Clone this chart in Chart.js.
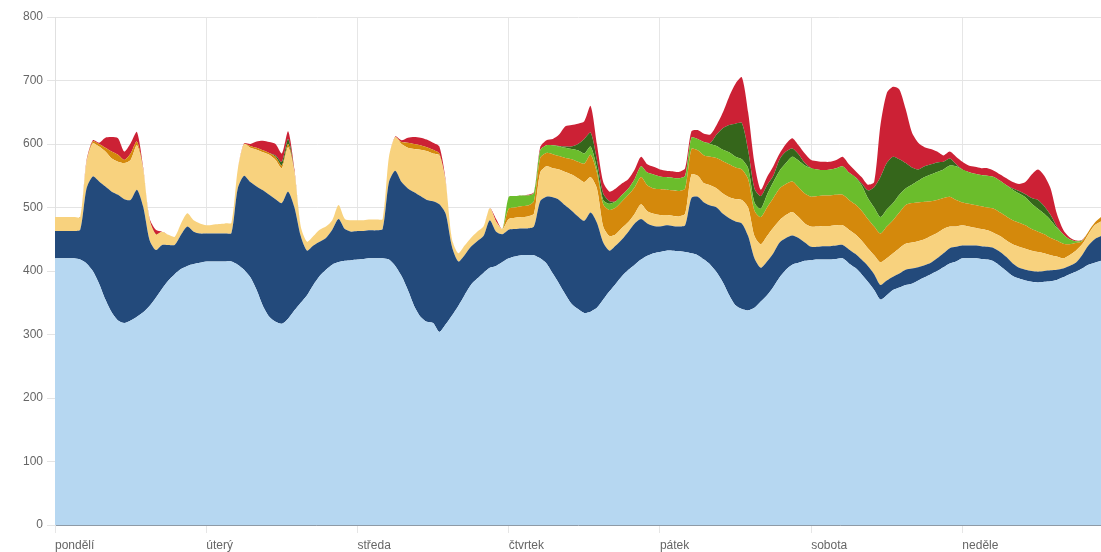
<!DOCTYPE html>
<html lang="cs">
<head>
  <meta charset="UTF-8">
  <title>Výroba elektřiny během týdne</title>
  <script src="https://cdn.jsdelivr.net/npm/chart.js"></script>
  <style>
    html, body { margin: 0; padding: 0; background: #fff; }
    #wrap { width: 1101px; height: 552px; }
  </style>
</head>
<body>
  <div id="wrap"><canvas id="weekChart"></canvas></div>

  <script>
    // Tick labels for the x axis, one per day (24 hourly samples each)
    const dayNames = ['pondělí', 'úterý', 'středa', 'čtvrtek', 'pátek', 'sobota', 'neděle'];

    // Hourly values, Monday 00:00 onwards, stacked bottom to top
    const lightBlue = [
      420,420,420,420,418,412,400,380,355,335,322,318,322,328,335,345,358,372,385,395,403,408,411,413,
      415,415,415,415,415,410,402,390,370,345,328,320,317,325,338,350,362,378,392,402,410,414,416,417,
      418,419,420,420,420,418,408,392,370,345,328,320,318,304,316,330,345,362,378,388,397,405,408,414,
      420,423,425,425,425,420,412,396,380,363,348,340,334,336,342,355,368,380,392,402,410,418,424,428,
      430,432,432,431,430,428,425,418,410,398,382,362,346,340,338,342,352,362,375,390,402,410,413,416,
      417,418,418,418,419,420,412,405,395,383,370,355,362,370,374,378,380,385,390,395,400,406,412,415,
      420,420,420,419,418,415,408,400,392,388,385,383,382,383,384,386,390,395,399,404,410,413,416
    ];
    const darkBlue = [
      43,43,43,43,47,118,149,161,178,190,198,195,190,200,166,104,75,69,56,46,54,62,51,46,
      44,44,44,44,45,120,148,150,163,182,192,193,190,200,162,105,70,62,54,50,55,68,50,45,
      45,44,44,44,46,122,150,148,160,179,190,192,192,201,174,108,70,63,60,59,58,75,54,44,
      45,43,42,42,45,90,105,120,132,140,147,146,145,156,134,90,64,60,58,60,65,64,51,43,
      40,40,39,39,42,87,92,90,93,102,108,121,132,135,117,78,53,53,53,55,50,46,39,29,
      21,20,21,21,21,21,22,22,23,25,25,23,23,21,22,24,24,21,19,18,20,22,24,23,
      20,20,20,20,20,21,22,22,20,17,17,17,17,17,17,16,14,13,14,21,30,37,39
    ];
    const yellow = [
      22,22,22,22,20,40,52,55,55,52,52,57,63,70,58,31,24,21,16,13,18,21,18,16,
      13,14,15,16,16,30,50,54,58,60,63,62,55,70,55,15,14,15,19,18,15,22,16,18,
      17,17,17,17,16,40,53,60,64,68,73,77,75,77,50,12,13,15,14,15,15,19,16,8,
      17,18,18,19,20,45,48,46,48,53,57,60,61,56,54,25,23,18,18,15,15,23,19,19,
      18,16,16,16,18,37,33,30,32,30,32,33,35,37,45,35,37,40,40,35,36,37,33,30,
      32,32,32,32,32,31,31,31,30,28,30,36,35,37,40,41,41,41,41,42,40,38,34,32,
      32,30,28,27,26,24,25,26,30,33,33,32,31,28,24,21,16,17,19,17,18,22,23
    ];
    const orange = [
      0,0,0,0,0,2,3,4,6,11,11,5,10,6,2,1,1,0,0,0,0,0,0,0,
      0,0,0,0,0,0,0,3,3,3,3,5,4,5,2,0,0,0,0,0,0,0,0,0,
      0,0,0,0,0,0,0,3,8,8,7,6,6,3,1,0,0,0,0,0,0,0,0,0,
      16,16,17,17,20,23,21,22,21,22,24,26,29,35,25,35,41,42,42,43,42,43,41,40,
      41,40,40,40,40,40,40,44,45,48,51,52,50,48,45,40,43,45,47,50,49,48,47,47,
      47,48,48,48,48,48,47,47,47,46,45,45,50,52,56,61,62,61,59,55,52,49,47,42,
      36,36,36,36,36,38,37,38,38,38,37,34,32,30,27,25,23,17,12,5,4,4,7
    ];
    const lightGreen = [
      0,0,0,0,0,0,0,0,0,0,0,0,0,0,0,0,0,0,0,0,0,0,0,0,
      0,0,0,0,0,0,0,0,0,0,0,0,0,0,0,0,0,0,0,0,0,0,0,0,
      0,0,0,0,0,0,0,0,0,0,0,0,0,0,0,0,0,0,0,0,0,0,0,0,
      19,18,17,16,13,12,12,14,15,16,16,18,16,13,7,7,10,10,10,10,13,17,20,22,
      20,20,20,20,20,18,18,21,20,19,18,19,17,16,17,13,13,20,25,28,33,39,42,44,
      45,42,40,41,42,45,43,43,40,33,30,26,27,27,28,26,29,34,39,42,44,45,49,53,
      52,50,49,49,50,50,50,49,48,46,44,40,36,32,28,20,15,8,3,1,0,0,0
    ];
    const darkGreen = [
      0,0,0,0,0,0,0,0,0,0,0,0,0,0,0,0,0,0,0,0,0,0,0,0,
      0,0,0,0,0,0,0,0,0,0,0,2,6,8,0,0,0,0,0,0,0,0,0,0,
      0,0,0,0,0,0,0,0,0,0,0,0,0,0,0,0,0,0,0,0,0,0,0,0,
      0,0,0,0,0,0,0,0,1,2,4,10,23,22,13,10,4,0,0,0,0,0,0,0,
      0,0,0,0,0,0,0,0,2,18,34,43,52,57,28,22,20,15,10,18,18,13,10,4,
      0,0,0,0,0,0,0,0,3,12,32,63,73,73,56,40,27,18,17,16,15,12,11,3,
      0,0,0,0,0,0,0,0,2,4,5,9,14,12,8,2,0,0,0,0,0,0,0
    ];
    const red = [
      0,0,0,0,0,2,2,2,16,23,26,13,16,15,2,2,7,0,0,0,0,0,0,0,
      0,0,0,0,0,0,1,3,10,15,17,18,13,12,3,0,0,0,0,0,0,0,0,0,
      0,0,0,0,0,0,1,3,8,11,12,12,11,11,2,0,0,0,0,0,0,0,4,0,
      0,0,0,1,1,5,8,10,18,32,34,32,28,42,25,18,15,20,18,15,15,15,13,12,
      11,10,10,10,12,10,14,13,13,15,25,45,63,72,60,40,10,13,15,9,12,16,14,15,
      13,13,13,12,13,15,13,10,10,9,8,82,110,110,110,85,55,42,30,24,17,10,11,12,
      12,10,11,11,12,10,10,11,10,11,19,37,48,48,42,20,7,3,1,1,0,0,0
    ];

    // hour index of each sample, used as the x value
    const hours = lightBlue.map((v, i) => i);

    const layers = [
      { data: lightBlue,  color: '#b6d7f1' },
      { data: darkBlue,   color: '#234a7b' },
      { data: yellow,     color: '#f8d27e' },
      { data: orange,     color: '#d4890c' },
      { data: lightGreen, color: '#6bbd2c' },
      { data: darkGreen,  color: '#35661b' },
      { data: red,        color: '#cc2135' }
    ];

    const datasets = layers.map((l, i) => ({
      data: l.data,
      backgroundColor: l.color,
      borderWidth: 0,
      pointRadius: 0,
      tension: 0.25,
      fill: i === 0 ? 'origin' : '-1'
    }));

    const tickFont = { family: "'Liberation Sans', Arial, sans-serif", size: 12 };

    new Chart(document.getElementById('weekChart'), {
      type: 'line',
      data: { labels: hours, datasets: datasets },
      options: {
        responsive: true,
        maintainAspectRatio: false,
        animation: false,
        layout: { padding: { top: 17, right: 0, bottom: 0, left: 0 } },
        plugins: {
          legend: { display: false },
          tooltip: { enabled: false }
        },
        scales: {
          x: {
            type: 'linear',
            min: 0,
            max: hours.length - 1,
            afterBuildTicks: scale => {
              scale.ticks = dayNames.map((d, i) => ({ value: i * 24 }));
            },
            afterFit: scale => { scale.height = 27; },
            ticks: {
              callback: value => dayNames[value / 24],
              align: 'start',
              maxRotation: 0,
              autoSkip: false,
              color: '#666',
              font: tickFont,
              padding: 5
            },
            grid: { color: '#e6e6e6', tickLength: 8 },
            border: { color: '#8e9aa6' }
          },
          y: {
            stacked: true,
            min: 0,
            max: 800,
            afterFit: scale => { scale.width = 55; },
            ticks: {
              stepSize: 100,
              color: '#666',
              font: tickFont,
              padding: 4
            },
            grid: { color: '#e4e4e4', tickLength: 8 },
            border: { color: '#e0e0e0' }
          }
        }
      }
    });
  </script>
</body>
</html>
